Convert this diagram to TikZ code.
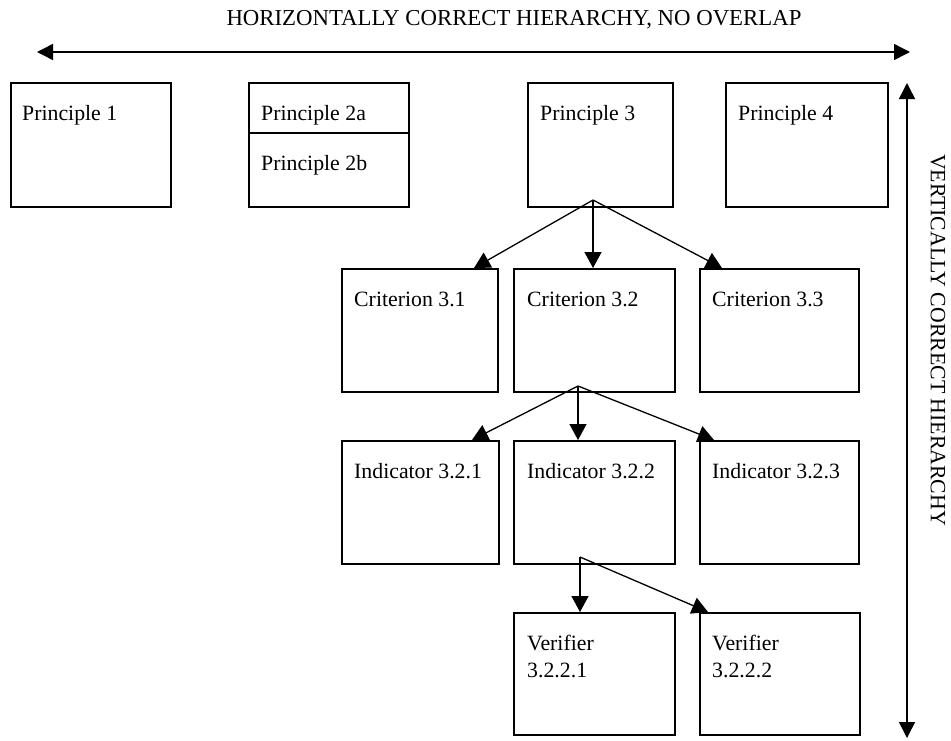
\documentclass[tikz,border=0pt]{standalone}
\usepackage{fontspec}
\setmainfont{Liberation Serif}
\usetikzlibrary{arrows.meta,calc}
\begin{document}
\begin{tikzpicture}[x=1pt,y=-1pt,
  box/.style={draw, line width=2.2pt, anchor=north west, inner sep=0pt},
  txt/.style={anchor=base west, inner sep=0pt, font=\fontsize{21.8}{27}\selectfont},
  arr/.style={line width=1.3pt, -{Triangle[length=16pt,width=17pt]}},
  dbl/.style={line width=1.5pt, {Triangle[length=16pt,width=16pt]}-{Triangle[length=16pt,width=16pt]}}]
\useasboundingbox (0,0) rectangle (951,740);

% title and axes
\node[anchor=base, inner sep=0pt, font=\fontsize{22.8}{27}\selectfont] (title) at (514,25) {HORIZONTALLY CORRECT HIERARCHY, NO OVERLAP};
\coordinate (hl) at (37,52);
\coordinate (hr) at (910,52);
\draw[dbl] (hl) -- (hr);
\coordinate (vt) at (907,83);
\coordinate (vb) at (907,738);
\draw[dbl] (vt) -- (vb);
\node[rotate=-90, inner sep=0pt, font=\fontsize{21.8}{27}\selectfont] (vtitle) at (938,340) {VERTICALLY CORRECT HIERARCHY};

% principles
\node[box, minimum width=160pt, minimum height=124pt] (p1) at (10,82) {};
\node[txt] (p1t) at (22,120) {Principle 1};
\node[box, minimum width=160pt, minimum height=124pt] (p2) at (248,82) {};
\draw[line width=1.5pt] (p2.west |- 0,133) -- (p2.east |- 0,133);
\node[txt] (p2at) at (261,120) {Principle 2a};
\node[txt] (p2bt) at (261,170) {Principle 2b};
\node[box, minimum width=145pt, minimum height=124pt] (p3) at (527,82) {};
\node[txt] (p3t) at (540,120) {Principle 3};
\node[box, minimum width=162pt, minimum height=124pt] (p4) at (725,82) {};
\node[txt] (p4t) at (738,120) {Principle 4};

% criteria
\node[box, minimum width=156pt, minimum height=123pt] (c1) at (341,268) {};
\node[txt] (c1t) at (354,306) {Criterion 3.1};
\node[box, minimum width=161pt, minimum height=123pt] (c2) at (513,268) {};
\node[txt] (c2t) at (527,306) {Criterion 3.2};
\node[box, minimum width=159pt, minimum height=123pt] (c3) at (699,268) {};
\node[txt] (c3t) at (712,306) {Criterion 3.3};

% indicators
\node[box, minimum width=157pt, minimum height=123pt] (i1) at (341,440) {};
\node[txt] (i1t) at (354,478) {Indicator 3.2.1};
\node[box, minimum width=161pt, minimum height=123pt] (i2) at (513,440) {};
\node[txt] (i2t) at (527,478) {Indicator 3.2.2};
\node[box, minimum width=159pt, minimum height=123pt] (i3) at (699,440) {};
\node[txt] (i3t) at (712,478) {Indicator 3.2.3};

% verifiers
\node[box, minimum width=161pt, minimum height=122pt] (v1) at (513,612) {};
\node[txt] (v1a) at (527,650) {Verifier};
\node[txt] (v1b) at (527,677) {3.2.2.1};
\node[box, minimum width=160pt, minimum height=122pt] (v2) at (699,612) {};
\node[txt] (v2a) at (712,650) {Verifier};
\node[txt] (v2b) at (712,677) {3.2.2.2};

% connector points
\coordinate (p3o) at (593,200);
\coordinate (c1i) at (474,268);
\coordinate (c2i) at (593,268);
\coordinate (c3i) at (722,268);
\coordinate (c2o) at (578,386);
\coordinate (i1i) at (472,440);
\coordinate (i2i) at (578,440);
\coordinate (i3i) at (714,440);
\coordinate (i2o) at (580,557);
\coordinate (v1i) at (580,612);
\coordinate (v2i) at (708,612);

\draw[arr] (p3o) -- (c1i);
\draw[arr] (p3o) -- (c2i);
\draw[arr] (p3o) -- (c3i);
\draw[arr] (c2o) -- (i1i);
\draw[arr] (c2o) -- (i2i);
\draw[arr] (c2o) -- (i3i);
\draw[arr] (i2o) -- (v1i);
\draw[arr] (i2o) -- (v2i);
\end{tikzpicture}
\end{document}
